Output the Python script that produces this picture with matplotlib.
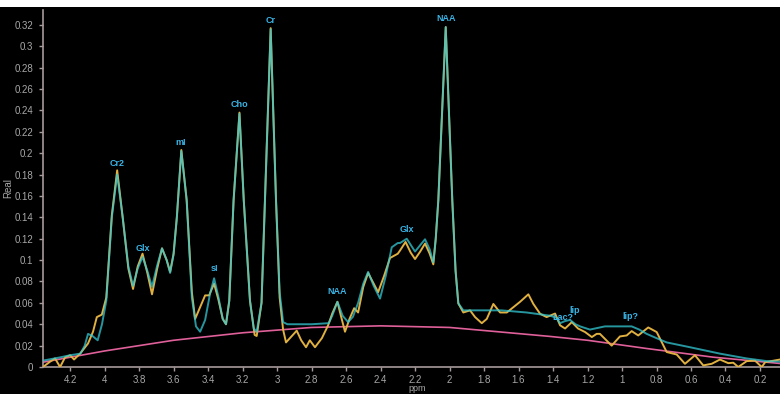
import matplotlib
matplotlib.use("Agg")
import matplotlib.pyplot as plt
from matplotlib.patches import Rectangle

plt.rcParams['font.family'] = ['Liberation Sans', 'DejaVu Sans']

# fitted spectrum (ppm, amplitude)
fit_ppm = [4.357, 4.258, 4.20, 4.14, 4.115, 4.096, 4.07, 4.04, 4.015, 3.99,
           3.958, 3.927, 3.895, 3.862, 3.835, 3.808, 3.78, 3.752, 3.725, 3.695,
           3.667, 3.64, 3.62, 3.60, 3.581, 3.555, 3.524, 3.494, 3.47, 3.446,
           3.417, 3.388, 3.365, 3.34, 3.315, 3.296, 3.277, 3.252, 3.218, 3.193,
           3.157, 3.135, 3.118, 3.09, 3.07, 3.037, 3.006, 2.985, 2.965, 2.94,
           2.80, 2.70, 2.68, 2.65, 2.62, 2.588, 2.56, 2.53, 2.50, 2.472,
           2.44, 2.403, 2.37, 2.335, 2.30, 2.287, 2.248, 2.22, 2.20, 2.17,
           2.142, 2.115, 2.094, 2.08, 2.065, 2.022, 1.984, 1.965, 1.949, 1.92,
           1.70, 1.553, 1.417, 1.38, 1.359, 1.33, 1.301, 1.27, 1.243, 1.186,
           1.128, 1.099, 0.944, 0.90, 0.857, 0.80, 0.741, 0.606, 0.432, 0.277,
           0.16, 0.084]
fit_val = [0.006, 0.009, 0.011, 0.0125, 0.020, 0.031, 0.029, 0.025, 0.040, 0.062,
           0.140, 0.180, 0.140, 0.094, 0.076, 0.092, 0.103, 0.090, 0.075, 0.095,
           0.111, 0.100, 0.088, 0.105, 0.140, 0.202, 0.156, 0.065, 0.038, 0.033,
           0.044, 0.069, 0.083, 0.0655, 0.045, 0.040, 0.062, 0.156, 0.237, 0.156,
           0.062, 0.036, 0.033, 0.060, 0.156, 0.316, 0.156, 0.070, 0.042, 0.040,
           0.040, 0.041, 0.048, 0.061, 0.048, 0.042, 0.047, 0.060, 0.078, 0.089,
           0.076, 0.064, 0.085, 0.112, 0.116, 0.116, 0.120, 0.113, 0.108, 0.114,
           0.1195, 0.110, 0.098, 0.120, 0.156, 0.318, 0.156, 0.090, 0.0595, 0.053,
           0.053, 0.051, 0.048, 0.046, 0.041, 0.043, 0.044, 0.040, 0.038, 0.035,
           0.037, 0.038, 0.038, 0.035, 0.031, 0.027, 0.023, 0.0185, 0.0125, 0.008,
           0.0055, 0.005]

# measured spectrum
meas_ppm = [4.357, 4.316, 4.287, 4.258, 4.229, 4.20, 4.177, 4.142, 4.096, 4.067,
            4.045, 4.016, 3.99, 3.958, 3.927, 3.895, 3.862, 3.835, 3.808, 3.78,
            3.752, 3.725, 3.695, 3.667, 3.64, 3.62, 3.60, 3.581, 3.555, 3.524,
            3.494, 3.475, 3.446, 3.417, 3.394, 3.365, 3.34, 3.315, 3.296, 3.277,
            3.252, 3.218, 3.193, 3.157, 3.13, 3.118, 3.09, 3.07, 3.037, 3.006,
            2.985, 2.965, 2.948, 2.92, 2.886, 2.86, 2.832, 2.81, 2.78, 2.74,
            2.704, 2.68, 2.65, 2.63, 2.606, 2.58, 2.553, 2.53, 2.50, 2.472,
            2.44, 2.414, 2.38, 2.345, 2.30, 2.287, 2.255, 2.225, 2.20, 2.17,
            2.142, 2.115, 2.094, 2.08, 2.065, 2.022, 1.984, 1.965, 1.949, 1.92,
            1.881, 1.852, 1.813, 1.784, 1.746, 1.707, 1.668, 1.63, 1.591, 1.543,
            1.514, 1.475, 1.437, 1.388, 1.359, 1.33, 1.291, 1.255, 1.214, 1.175,
            1.147, 1.128, 1.06, 1.012, 0.973, 0.944, 0.906, 0.848, 0.799, 0.741,
            0.683, 0.635, 0.577, 0.529, 0.48, 0.432, 0.384, 0.355, 0.326, 0.277,
            0.229, 0.19, 0.17, 0.084]
meas_val = [0.0, 0.005, 0.008, 0.0, 0.009, 0.011, 0.007, 0.0125, 0.022, 0.033,
            0.0467, 0.049, 0.065, 0.142, 0.184, 0.140, 0.092, 0.073, 0.094, 0.106,
            0.088, 0.068, 0.092, 0.111, 0.100, 0.089, 0.106, 0.140, 0.203, 0.156,
            0.070, 0.045, 0.056, 0.067, 0.067, 0.078, 0.063, 0.045, 0.040, 0.062,
            0.156, 0.238, 0.156, 0.062, 0.030, 0.029, 0.060, 0.156, 0.317, 0.156,
            0.065, 0.035, 0.023, 0.028, 0.034, 0.025, 0.0185, 0.025, 0.0185, 0.027,
            0.039, 0.050, 0.061, 0.048, 0.033, 0.045, 0.055, 0.051, 0.075, 0.088,
            0.078, 0.070, 0.085, 0.102, 0.106, 0.109, 0.117, 0.107, 0.101, 0.108,
            0.1155, 0.106, 0.096, 0.120, 0.156, 0.318, 0.156, 0.090, 0.0595, 0.051,
            0.053, 0.0467, 0.041, 0.045, 0.059, 0.051, 0.051, 0.056, 0.061, 0.068,
            0.059, 0.0498, 0.0467, 0.050, 0.039, 0.036, 0.042, 0.036, 0.0327, 0.028,
            0.031, 0.031, 0.020, 0.0286, 0.0295, 0.0336, 0.0295, 0.037, 0.0327, 0.014,
            0.0117, 0.003, 0.011, 0.0015, 0.003, 0.007, 0.0036, 0.004, 0.0, 0.0055,
            0.006, 0.0, 0.0045, 0.007]

# baseline
base_ppm = [4.357, 4.0, 3.6, 3.2, 2.8, 2.4, 2.0, 1.7, 1.417, 1.2, 0.857, 0.472, 0.084]
base_val = [0.0045, 0.015, 0.025, 0.032, 0.037, 0.0385, 0.037, 0.0327, 0.0286, 0.025,
            0.0173, 0.0092, 0.0033]

# metabolite labels
label_text = ['Cr2', 'Glx', 'mI', 'sI', 'Cho', 'Cr', 'NAA', 'Glx', 'NAA', 'Lac?', 'lip', 'lip?']
label_ppm = [3.93, 3.78, 3.557, 3.365, 3.218, 3.037, 2.65, 2.25, 2.022, 1.34, 1.275, 0.95]
label_val = [0.186, 0.107, 0.206, 0.088, 0.241, 0.320, 0.066, 0.124, 0.322, 0.042, 0.049, 0.043]

bg = 'black'
tick_col = '#a8a8a8'
spine_col = '#a89a9a'

fig = plt.figure(figsize=(7.8, 3.94), dpi=100, facecolor=bg)
ax = fig.add_axes([43 / 780, 27 / 394, 737 / 780, 357 / 394])
ax.set_facecolor(bg)
fig.patches.append(Rectangle((0, 1 - 7 / 394), 1, 7 / 394, transform=fig.transFigure,
                             facecolor='white', edgecolor='none', zorder=10))

ax.plot(base_ppm, base_val, color='#e0609a', lw=1.2, zorder=2)
ax.plot(meas_ppm, meas_val, color='#e0b040', lw=1.4, zorder=3)
ax.plot(fit_ppm, fit_val, color='#34c8d4', lw=1.4, alpha=0.75, zorder=4)

for t, xp, yv in zip(label_text, label_ppm, label_val):
    ax.text(xp, yv, t, color='#3ab4e6', fontsize=6.5, ha='center', va='bottom',
            fontweight='bold', zorder=5)

ax.set_xlim(4.357, 0.084)
ax.set_ylim(0, 0.334)
ax.set_xticks([4.2, 4.0, 3.8, 3.6, 3.4, 3.2, 3.0, 2.8, 2.6, 2.4, 2.2, 2.0,
               1.8, 1.6, 1.4, 1.2, 1.0, 0.8, 0.6, 0.4, 0.2])
ax.set_xticklabels(['%g' % v for v in ax.get_xticks()])
yt = [i * 0.02 for i in range(17)]
ax.set_yticks(yt)
ax.set_yticklabels(['%g' % round(v, 2) for v in yt])

for s in ['top', 'right']:
    ax.spines[s].set_visible(False)
for s in ['left', 'bottom']:
    ax.spines[s].set_color(spine_col)
    ax.spines[s].set_linewidth(1.2)
ax.tick_params(colors=tick_col, labelsize=7, length=3, width=1, pad=4)
ax.tick_params(axis='x', colors=spine_col, labelcolor=tick_col, pad=3)
ax.tick_params(axis='y', colors=spine_col, labelcolor=tick_col)

ax.set_xlabel('ppm', color=tick_col, fontsize=6.5)
ax.xaxis.set_label_coords(0.508, -0.049)
ax.set_ylabel('Real', color=tick_col, fontsize=7)
ax.yaxis.set_label_coords(-0.04, 0.5)

fig.savefig('out.png', dpi=100, facecolor=bg)
